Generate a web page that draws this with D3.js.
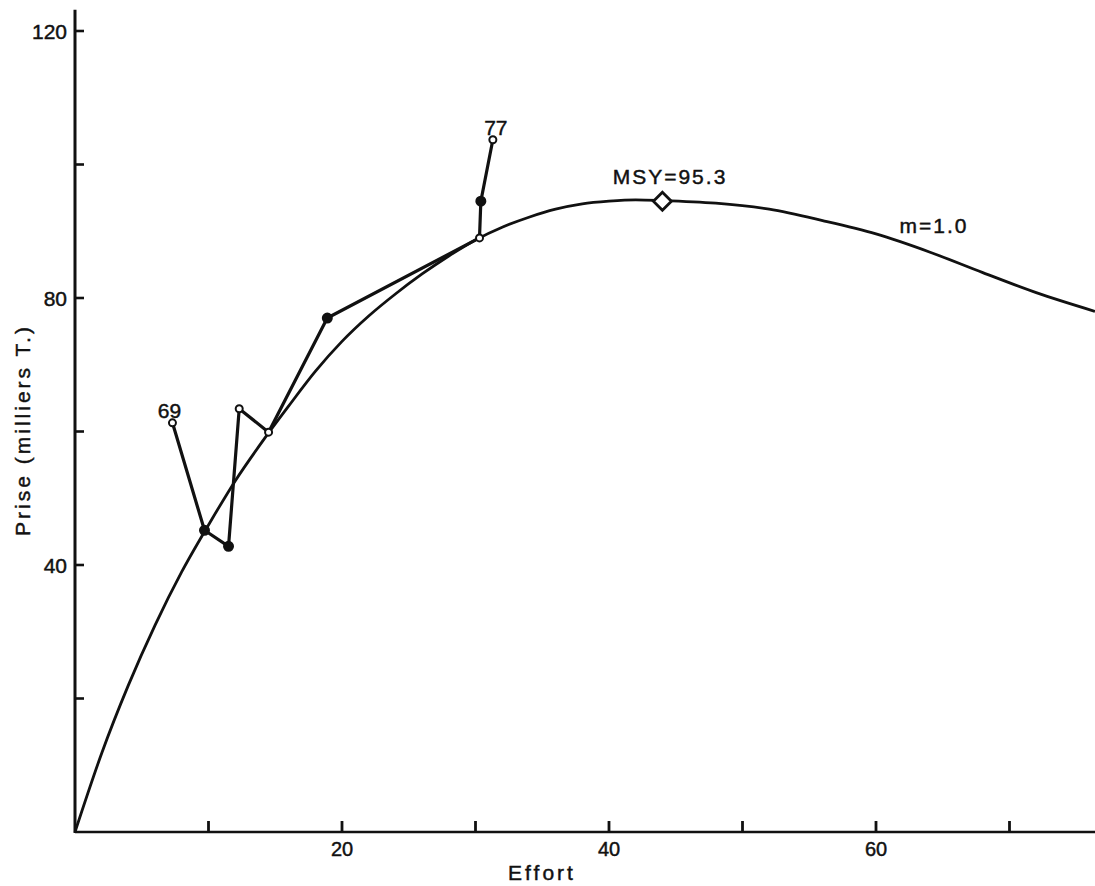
<!DOCTYPE html>
<html>
<head>
<meta charset="utf-8">
<script src="https://cdn.jsdelivr.net/npm/d3@7"></script>
<style>
  body { margin: 0; background: #fff; }
  text { font-family: "Liberation Sans", Arial, sans-serif; fill: #111; stroke: #111; stroke-width: 0.45; }
</style>
</head>
<body>
<svg id="chart"></svg>
<script>
"use strict";

// observed catch / effort, 1969 .. 1977
const years = [69, 70, 71, 72, 73, 74, 75, 76, 77];
const effort = [7.3, 9.7, 11.5, 12.3, 14.5, 18.9, 30.3, 30.4, 31.3];
const prise = [61.3, 45.2, 42.8, 63.4, 59.9, 77.0, 89.0, 94.5, 103.7];
const filledPoint = [false, true, true, false, false, true, false, true, false];

// production curve (m = 1.0)
const curveEffort = [0, 2, 4, 6, 8, 10, 12, 14, 16, 18, 20, 22, 24, 26, 28, 30, 32, 34, 36, 38,
    40, 42, 44, 48, 52, 56, 60, 64, 68, 72, 76.4];
const curvePrise = [0, 11.8, 22.0, 31.0, 39.0, 46.0, 52.6, 58.4, 63.8, 69.0, 73.5, 77.3, 80.6, 83.6,
    86.3, 88.7, 90.6, 92.1, 93.3, 94.1, 94.5, 94.7, 94.6, 94.2, 93.3, 91.6, 89.6, 86.9, 83.8, 80.8, 78.0];

const msy = { effort: 44.0, prise: 94.5, label: "MSY=95.3" };
const curveLabel = "m=1.0";

const yTicks = [20, 40, 60, 80, 100, 120];
const yTickLabels = [40, 80, 120];
const xTicks = [10, 20, 30, 40, 50, 60, 70];
const xTickLabels = [20, 40, 60];

const width = 1095, height = 886;
const x = d3.scaleLinear().domain([0, 20]).range([75, 342]);
const y = d3.scaleLinear().domain([0, 120]).range([832, 31]);

const svg = d3.select("#chart").attr("width", width).attr("height", height);

// axes
svg.append("line")
    .attr("x1", x(0)).attr("x2", x(0))
    .attr("y1", y(0) + 1).attr("y2", y(123.2))
    .attr("stroke", "#111").attr("stroke-width", 3);
svg.append("line")
    .attr("x1", x(0)).attr("x2", width)
    .attr("y1", y(0)).attr("y2", y(0))
    .attr("stroke", "#111").attr("stroke-width", 2.6);

svg.append("g").selectAll("line")
    .data(yTicks).join("line")
    .attr("x1", x(0)).attr("x2", x(0) + 9)
    .attr("y1", d => y(d)).attr("y2", d => y(d))
    .attr("stroke", "#111").attr("stroke-width", 2.6);
svg.append("g").selectAll("text")
    .data(yTickLabels).join("text")
    .attr("x", x(0) - 8).attr("y", d => y(d) + 8)
    .attr("text-anchor", "end")
    .attr("font-size", 21)
    .text(d => d);

svg.append("g").selectAll("line")
    .data(xTicks).join("line")
    .attr("x1", d => x(d)).attr("x2", d => x(d))
    .attr("y1", y(0)).attr("y2", y(0) - 11)
    .attr("stroke", "#111").attr("stroke-width", 2.8);
svg.append("g").selectAll("text")
    .data(xTickLabels).join("text")
    .attr("x", d => x(d)).attr("y", y(0) + 24)
    .attr("text-anchor", "middle")
    .attr("font-size", 20)
    .text(d => d);

// axis titles
svg.append("text")
    .attr("x", 542).attr("y", 880)
    .attr("text-anchor", "middle")
    .attr("font-size", 21)
    .attr("letter-spacing", 3)
    .text("Effort");
svg.append("text")
    .attr("transform", "translate(30,430) rotate(-90)")
    .attr("text-anchor", "middle")
    .attr("font-size", 21)
    .attr("letter-spacing", 3)
    .text("Prise (milliers T.)");

// production curve
const curveData = curveEffort.map((e, i) => [e, curvePrise[i]]);
svg.append("path")
    .datum(curveData)
    .attr("fill", "none")
    .attr("stroke", "#111")
    .attr("stroke-width", 2.8)
    .attr("d", d3.line().x(d => x(d[0])).y(d => y(d[1])).curve(d3.curveMonotoneX));

svg.append("text")
    .attr("x", 934).attr("y", 233)
    .attr("text-anchor", "middle")
    .attr("font-size", 21)
    .attr("letter-spacing", 2)
    .text(curveLabel);

// observed trajectory
const obs = years.map((yr, i) => ({ year: yr, e: effort[i], p: prise[i], filled: filledPoint[i] }));
svg.append("path")
    .datum(obs)
    .attr("fill", "none")
    .attr("stroke", "#111")
    .attr("stroke-width", 3.2)
    .attr("stroke-linejoin", "round")
    .attr("d", d3.line().x(d => x(d.e)).y(d => y(d.p)));

svg.append("g").selectAll("circle")
    .data(obs).join("circle")
    .attr("cx", d => x(d.e)).attr("cy", d => y(d.p))
    .attr("r", d => d.filled ? 4.5 : 3.5)
    .attr("fill", d => d.filled ? "#111" : "#fff")
    .attr("stroke", "#111").attr("stroke-width", 2);

svg.append("g").selectAll("text")
    .data([obs[0], obs[obs.length - 1]]).join("text")
    .attr("x", d => x(d.e) + (d.year === 69 ? -3 : 3))
    .attr("y", d => y(d.p) - 5)
    .attr("text-anchor", "middle")
    .attr("font-size", 21)
    .text(d => d.year);

// MSY marker
const mx = x(msy.effort), my = y(msy.prise);
svg.append("path")
    .attr("d", `M${mx},${my - 9}L${mx + 9},${my}L${mx},${my + 9}L${mx - 9},${my}Z`)
    .attr("fill", "#fff")
    .attr("stroke", "#111")
    .attr("stroke-width", 2.8);
svg.append("text")
    .attr("x", 670).attr("y", 184)
    .attr("text-anchor", "middle")
    .attr("font-size", 21)
    .attr("letter-spacing", 2)
    .text(msy.label);
</script>
</body>
</html>
